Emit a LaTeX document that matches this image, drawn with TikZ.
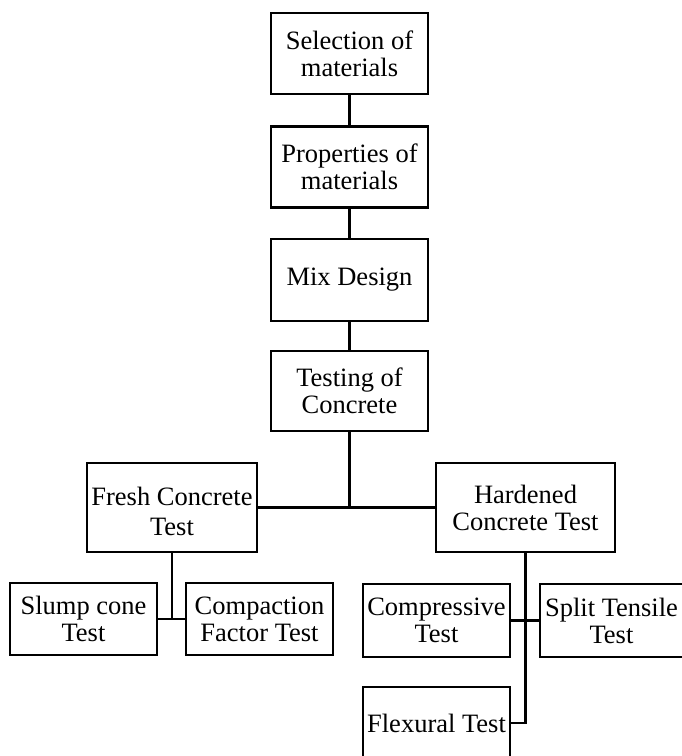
\documentclass[tikz,border=0pt]{standalone}
\usepackage{fontspec}
\setmainfont{Liberation Serif}
\begin{document}
\begin{tikzpicture}[x=1pt,y=-1pt,
  box/.style={draw=black, line width=2.5pt, rectangle, inner sep=0pt, align=center,
    font=\fontsize{26.5}{27}\selectfont, text=black},
  link/.style={draw=black, line width=2.5pt}]
\useasboundingbox (0,0) rectangle (682,756);
\clip (0,0) rectangle (682,756);
\node[box, minimum width=157pt, minimum height=81pt] (b1) at (349.5,53.5) {Selection of\\materials};
\node[box, minimum width=157pt, minimum height=81pt] (b2) at (349.5,167) {Properties of\\materials};
\node[box, minimum width=157pt, minimum height=82pt] (b3) at (349.5,280) {Mix Design};
\node[box, minimum width=157pt, minimum height=80pt] (b4) at (349.5,391) {Testing of\\Concrete};
\node[box, minimum width=170pt, minimum height=89pt] (fresh) at (172,507.5) {\rule{0pt}{27pt}Fresh Concrete\\[3pt]Test};
\node[box, minimum width=179pt, minimum height=89pt] (hard) at (525.5,507.5) {Hardened\\Concrete Test};
\node[box, minimum width=147pt, minimum height=72pt] (slump) at (83.5,619) {Slump cone\\Test};
\node[box, minimum width=147pt, minimum height=72pt] (compa) at (259.5,619) {Compaction\\Factor Test};
\node[box, minimum width=147pt, minimum height=73pt] (compr) at (436.5,620.5) {Compressive\\Test};
\node[box, minimum width=143pt, minimum height=73pt] (split) at (611.5,620.5) {Split Tensile\\Test};
\node[box, minimum width=147pt, minimum height=72pt] (flex) at (436.5,723) {Flexural Test};
\coordinate (j) at (b4.south |- fresh.east);
\draw[link] (b1) -- (b2);
\draw[link] (b2) -- (b3);
\draw[link] (b3) -- (b4);
\draw[link] (b4.south) -- (j);
\draw[link] (fresh.east) -- (hard.west);
\draw[link] (fresh.south) -- (fresh.south |- slump.east);
\draw[link] (slump.east) -- (compa.west);
\draw[link] (hard.south) -- (hard.south |- flex.east) -- (flex.east);
\draw[link] (compr.east) -- (split.west);
\end{tikzpicture}
\end{document}
